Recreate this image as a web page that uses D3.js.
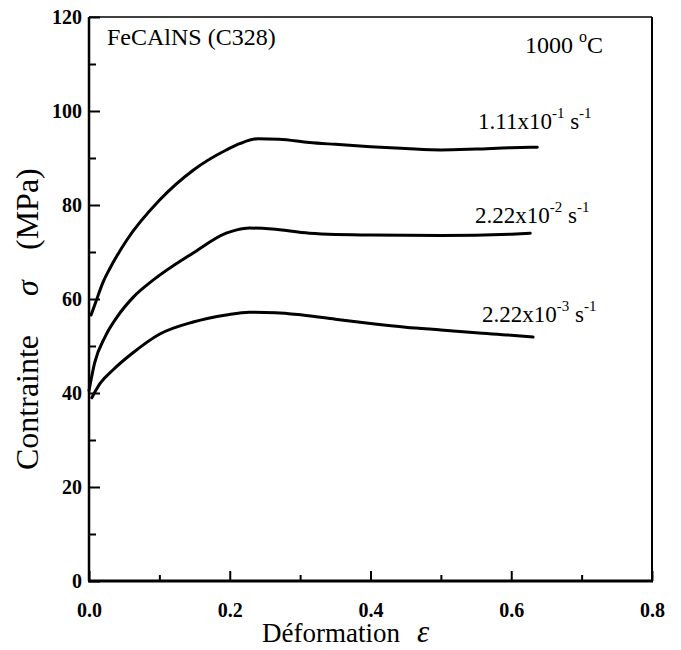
<!DOCTYPE html>
<html>
<head>
<meta charset="utf-8">
<script src="https://cdn.jsdelivr.net/npm/d3@7"></script>
<style>
  body { margin: 0; background: white; }
  svg text { font-family: "Liberation Serif", "Times New Roman", serif; }
</style>
</head>
<body>
<script>
// strain / stress
var eps_high = [0.003, 0.009, 0.02, 0.03, 0.054, 0.1, 0.148, 0.195, 0.215, 0.24, 0.27, 0.313, 0.35, 0.4, 0.45, 0.5, 0.55, 0.6, 0.637]
var sig_high = [56.6, 59.1, 63.6, 66.6, 72.6, 81, 87.4, 91.7, 93.1, 94.1, 94.0, 93.3, 92.9, 92.4, 92.0, 91.7, 91.9, 92.2, 92.3]

var eps_mid = [0, 0.008, 0.023, 0.04, 0.063, 0.091, 0.148, 0.195, 0.21, 0.228, 0.26, 0.313, 0.4, 0.5, 0.6, 0.627]
var sig_mid = [40.5, 46.4, 52, 56.2, 60.4, 64, 69.8, 74, 74.7, 75.1, 74.9, 74, 73.6, 73.5, 73.8, 74.0]

var eps_low = [0.004, 0.016, 0.034, 0.062, 0.1, 0.148, 0.195, 0.228, 0.265, 0.303, 0.35, 0.4, 0.45, 0.5, 0.55, 0.6, 0.631]
var sig_low = [39.0, 42.1, 44.9, 48.5, 52.5, 55.1, 56.6, 57.2, 57.1, 56.6, 55.7, 54.8, 54.0, 53.4, 52.8, 52.3, 51.9]

var rate_mant = ["1.11x10", "2.22x10", "2.22x10"]
var rate_exp = ["-1", "-2", "-3"]

var x_ticks = [0, 0.2, 0.4, 0.6, 0.8]
var x_minor = [0.1, 0.3, 0.5, 0.7]
var y_ticks = [0, 20, 40, 60, 80, 100, 120]
var y_minor = [10, 30, 50, 70, 90, 110]

var w = 681, h = 650
// plot box (don't call these top/left, window.top is read-only)
var m_left = 89, m_right = 652, m_top = 17, m_bottom = 581

var x = d3.scaleLinear().domain([0, 0.8]).range([m_left, m_right])
var y = d3.scaleLinear().domain([0, 120]).range([m_bottom, m_top])

var svg = d3.select("body").append("svg")
    .attr("width", w)
    .attr("height", h)
    .attr("font-family", "'Liberation Serif', serif")

// frame top / right
svg.append("line")
    .attr("x1", m_left).attr("x2", m_right).attr("y1", m_top).attr("y2", m_top)
    .attr("stroke", "black").attr("stroke-width", 1.5)
svg.append("line")
    .attr("x1", m_right).attr("x2", m_right).attr("y1", m_top).attr("y2", m_bottom)
    .attr("stroke", "black").attr("stroke-width", 2)

// axes, ticks pointing inward
svg.append("g")
    .attr("transform", "translate(0," + m_bottom + ")")
    .call(d3.axisBottom(x).tickValues(x_ticks).tickSize(-10).tickPadding(22).tickFormat(d3.format(".1f")))
svg.append("g")
    .attr("transform", "translate(0," + m_bottom + ")")
    .call(d3.axisBottom(x).tickValues(x_minor).tickSize(-6).tickFormat(""))

svg.append("g")
    .attr("transform", "translate(" + m_left + ",0)")
    .call(d3.axisLeft(y).tickValues(y_ticks).tickSize(-11).tickPadding(7))
svg.append("g")
    .attr("transform", "translate(" + m_left + ",0)")
    .call(d3.axisLeft(y).tickValues(y_minor).tickSize(-7).tickFormat(""))

svg.selectAll(".domain").remove()
svg.selectAll(".tick line").attr("stroke", "black").attr("stroke-width", 2)
svg.selectAll(".tick text")
    .attr("fill", "black")
    .attr("font-family", "'Liberation Serif', serif")
    .attr("font-size", 20)
    .attr("font-weight", "bold")
svg.selectAll("g").attr("font-family", null).attr("font-size", null)

svg.append("line")
    .attr("x1", m_left).attr("x2", m_left).attr("y1", m_top).attr("y2", m_bottom)
    .attr("stroke", "black").attr("stroke-width", 2.5)
svg.append("line")
    .attr("x1", m_left - 1).attr("x2", m_right + 1).attr("y1", m_bottom).attr("y2", m_bottom)
    .attr("stroke", "black").attr("stroke-width", 3)

// curves
var line = d3.line()
    .x(d => x(d[0]))
    .y(d => y(d[1]))
    .curve(d3.curveMonotoneX)

var series = [
    d3.zip(eps_high, sig_high),
    d3.zip(eps_mid, sig_mid),
    d3.zip(eps_low, sig_low)
]

svg.selectAll(".curve")
    .data(series)
    .enter()
    .append("path")
    .attr("class", "curve")
    .attr("d", line)
    .attr("fill", "none")
    .attr("stroke", "black")
    .attr("stroke-width", 3)
    .attr("stroke-linejoin", "round")
    .attr("stroke-linecap", "round")

// rate labels
var label_pos = [[478, 129], [475, 223], [482, 322]]
rate_mant.forEach(function(m, i) {
    var t = svg.append("text")
        .attr("x", label_pos[i][0])
        .attr("y", label_pos[i][1])
        .attr("font-size", 23)
    t.append("tspan").text(m)
    t.append("tspan").attr("dy", -11).attr("font-size", 15).text(rate_exp[i])
    t.append("tspan").attr("dy", 11).text(" s")
    t.append("tspan").attr("dy", -11).attr("font-size", 15).text("-1")
})

svg.append("text")
    .attr("x", 107).attr("y", 45)
    .attr("font-size", 24)
    .text("FeCAlNS (C328)")

var temp = svg.append("text")
    .attr("x", 525).attr("y", 53)
    .attr("font-size", 24)
temp.append("tspan").text("1000 ")
temp.append("tspan").attr("dy", -11).attr("font-size", 16).text("o")
temp.append("tspan").attr("dy", 11).text("C")

// axis titles
var xt = svg.append("text")
    .attr("x", 262).attr("y", 642)
    .attr("font-size", 27)
xt.append("tspan").text("Déformation")
xt.append("tspan").attr("x", 417).attr("font-style", "italic").attr("font-size", 31).text("ε")

var yt = svg.append("text")
    .attr("transform", "translate(38,470) rotate(-90)")
    .attr("font-size", 32)
yt.append("tspan").attr("x", 0).text("Contrainte")
yt.append("tspan").attr("x", 174).attr("font-style", "italic").text("σ")
yt.append("tspan").attr("x", 220).text("(MPa)")
</script>
</body>
</html>
